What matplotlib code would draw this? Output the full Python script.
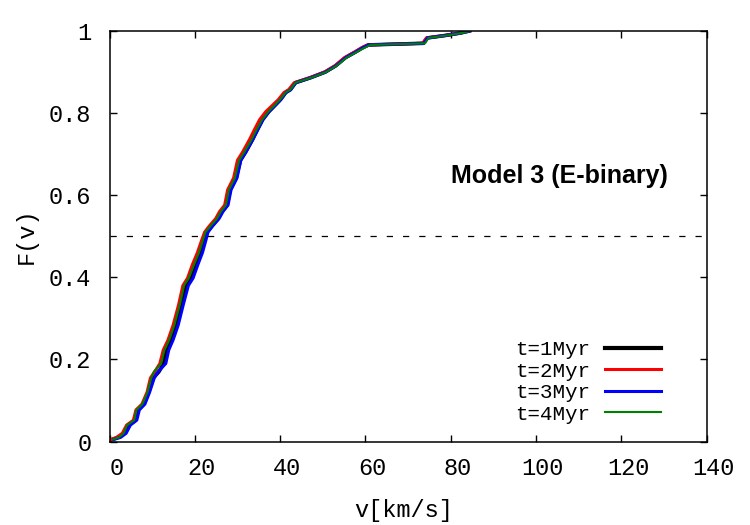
import numpy as np
import matplotlib
matplotlib.use("Agg")
import matplotlib.pyplot as plt
import matplotlib.transforms as mtransforms

# cumulative fraction levels
F = [0.005, 0.01, 0.02, 0.04, 0.052, 0.077, 0.091, 0.12, 0.155, 0.17,
     0.19, 0.223, 0.247, 0.283, 0.333, 0.38, 0.398, 0.43, 0.46, 0.49,
     0.51, 0.525, 0.543, 0.56, 0.576, 0.613, 0.642, 0.685, 0.705, 0.735,
     0.76, 0.784, 0.803, 0.82, 0.833, 0.85, 0.857, 0.874, 0.886, 0.90,
     0.915, 0.935, 0.949, 0.959, 0.966, 0.970, 0.983, 0.989, 0.995, 1.0]

# velocities (km/s) for each snapshot
v_1myr = [0.6, 2.0, 3.4, 4.4, 6.0, 6.6, 8.0, 9.2, 10.3, 11.6,
          12.7, 13.3, 14.5, 15.7, 16.9, 18.0, 19.2, 20.3, 21.4, 22.3,
          22.9, 24.0, 25.5, 26.4, 27.6, 28.3, 29.7, 30.7, 31.9, 33.5,
          34.7, 35.9, 37.3, 38.9, 40.1, 41.3, 42.4, 43.6, 47.1, 50.6,
          53.0, 55.3, 57.7, 59.3, 60.7, 73.6, 74.5, 78.7, 82.3, 84.4]
v_2myr = [0.4, 1.6, 3.0, 4.0, 5.6, 6.2, 7.6, 8.8, 9.6, 10.6,
          11.8, 12.6, 13.7, 14.9, 16.2, 17.2, 18.3, 19.4, 20.6, 21.6,
          22.3, 23.4, 24.9, 25.8, 27.0, 27.7, 29.1, 30.0, 31.2, 32.8,
          34.0, 35.2, 36.6, 38.3, 39.6, 40.9, 42.0, 43.3, 46.9, 50.4,
          52.8, 55.1, 57.5, 59.1, 60.5, 73.4, 74.3, 78.6, 82.2, 84.3]
v_3myr = [1.0, 2.6, 3.9, 4.9, 6.4, 7.0, 8.3, 9.4, 10.5, 11.4,
          13.2, 13.9, 14.9, 16.1, 17.3, 18.5, 19.6, 20.7, 21.8, 22.6,
          23.1, 24.2, 25.7, 26.6, 27.8, 28.5, 29.9, 30.8, 32.0, 33.6,
          34.8, 36.0, 37.4, 39.0, 40.2, 41.4, 42.5, 43.7, 47.2, 50.7,
          53.1, 55.4, 57.8, 59.4, 60.8, 73.7, 74.6, 78.8, 82.4, 84.5]
v_4myr = [0.8, 2.2, 3.3, 4.1, 5.8, 6.3, 7.7, 8.9, 9.8, 10.4,
          12.1, 12.9, 14.0, 15.2, 16.5, 17.5, 18.6, 19.8, 21.0, 21.9,
          22.5, 23.7, 25.2, 26.1, 27.3, 28.0, 29.4, 30.4, 31.6, 33.3,
          34.5, 35.8, 37.2, 38.8, 40.0, 41.3, 42.4, 43.6, 47.3, 50.8,
          53.2, 55.6, 58.0, 59.8, 61.2, 74.0, 74.8, 79.0, 82.6, 84.5]

series = [
    ("t=1Myr", v_1myr, "black", 2.6),
    ("t=2Myr", v_2myr, "#ff0000", 2.2),
    ("t=3Myr", v_3myr, "#0000ff", 2.2),
    ("t=4Myr", v_4myr, "#008000", 1.5),
]

mono = "Liberation Mono"

fig = plt.figure(figsize=(7.5, 5.25), dpi=100)
ax = fig.add_axes([0.146, 0.159, 0.796, 0.782])

for label, v, color, lw in series:
    ax.plot(v, F, color=color, lw=lw, label=label, solid_joinstyle="round")

# median reference
ax.axhline(0.5, color="black", lw=0.9, linestyle=(0, (5, 8)))

ax.set_xlim(0, 140)
ax.set_ylim(0, 1)
ax.set_xticks(np.arange(0, 141, 20))
ax.set_yticks(np.arange(0, 1.01, 0.2))
ax.set_yticklabels(["0", "0.2", "0.4", "0.6", "0.8", "1"])

ax.tick_params(direction="in", length=5, width=1, top=True, right=True,
               labelsize=17)
ax.tick_params(axis="y", pad=13)
ax.tick_params(axis="x", pad=11)
for lab in ax.get_xticklabels() + ax.get_yticklabels():
    lab.set_family(mono)
# gnuplot puts the x labels a little right of their ticks
shift = mtransforms.ScaledTranslation(0.07, 0, fig.dpi_scale_trans)
for lab in ax.get_xticklabels():
    lab.set_transform(lab.get_transform() + shift)
for sp in ax.spines.values():
    sp.set_linewidth(1.1)

ax.set_xlabel("v[km/s]", family=mono, fontsize=17)
ax.set_ylabel("F(v)", family=mono, fontsize=17)
ax.xaxis.set_label_coords(0.493, -0.14)
ax.yaxis.set_label_coords(-0.12, 0.5)

ax.text(105.4, 0.647, "Model 3 (E-binary)", family="Liberation Sans",
        fontweight="bold", fontsize=18, ha="center", va="center")

leg = ax.legend(loc="upper right", bbox_to_anchor=(0.924, 0.247),
                frameon=False, markerfirst=False, borderpad=0,
                borderaxespad=0, handlelength=2.7, handletextpad=0.7,
                labelspacing=0.12, prop={"family": mono, "size": 15})
for line in leg.get_lines():
    if line.get_color() == "black":
        line.set_linewidth(3.0)

fig.savefig("out.png", dpi=100)
